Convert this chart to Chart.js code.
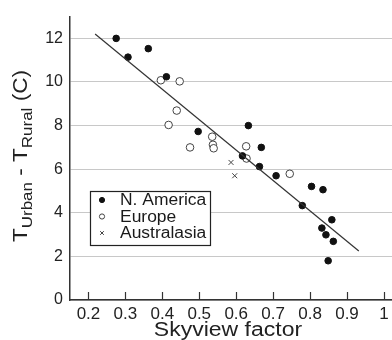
<!DOCTYPE html>
<html>
<head>
<meta charset="utf-8">
<script src="https://cdn.jsdelivr.net/npm/chart.js@4.4.0/dist/chart.umd.min.js"></script>
<style>
  html, body { margin: 0; padding: 0; background: #fff; overflow: hidden; }
  #wrap { width: 400px; height: 340px; }
</style>
</head>
<body>
<div id="wrap"><canvas id="chart" width="400" height="340"></canvas></div>
<script>
// tick labels
const xTicks = [0.2, 0.3, 0.4, 0.5, 0.6, 0.7, 0.8, 0.9, 1.0];
const yTicks = [0, 2, 4, 6, 8, 10, 12];

// N. America (filled dots)
const naX = [0.275, 0.307, 0.362, 0.411, 0.497, 0.633, 0.668, 0.617, 0.663, 0.708, 0.804, 0.835, 0.779, 0.859, 0.832, 0.843, 0.863, 0.849];
const naY = [12.0, 11.14, 11.53, 10.24, 7.73, 8.0, 7.0, 6.61, 6.12, 5.70, 5.21, 5.06, 4.33, 3.68, 3.30, 2.99, 2.69, 1.80];

// Europe (open circles)
const euX = [0.396, 0.447, 0.439, 0.417, 0.535, 0.475, 0.537, 0.539, 0.627, 0.628, 0.745];
const euY = [10.08, 10.03, 8.69, 8.03, 7.49, 7.0, 7.12, 6.96, 7.05, 6.49, 5.79];

// Australasia (crosses)
const auX = [0.586, 0.596];
const auY = [6.31, 5.70];

// fitted line end points
const fitX = [0.218, 0.932];
const fitY = [12.2, 2.25];

const FONT = '"Liberation Sans", Arial, Helvetica, sans-serif';

function pts(xs, ys) { return xs.map((x, i) => ({ x: x, y: ys[i] })); }

// titles, legend box and inward x ticks
const decor = {
  id: 'decor',
  afterDraw(chart) {
    const ctx = chart.ctx;
    const xs = chart.scales.x;
    const area = chart.chartArea;

    // inward tick marks on the x axis
    ctx.save();
    ctx.strokeStyle = '#333';
    ctx.lineWidth = 1.2;
    xTicks.forEach(v => {
      const px = Math.round(xs.getPixelForValue(v)) + 0.5;
      ctx.beginPath();
      ctx.moveTo(px, area.bottom);
      ctx.lineTo(px, area.bottom - 8);
      ctx.stroke();
    });
    ctx.restore();

    // x title (the source type is a little wide)
    ctx.save();
    ctx.fillStyle = '#222';
    ctx.font = '20px ' + FONT;
    ctx.textAlign = 'center';
    ctx.textBaseline = 'alphabetic';
    ctx.translate(228, 336);
    ctx.scale(1.15, 1);
    ctx.fillText('Skyview factor', 0, 0);
    ctx.restore();

    // y title with subscripts, rotated
    ctx.save();
    ctx.translate(27, 242);
    ctx.rotate(-Math.PI / 2);
    ctx.scale(1.13, 1);
    ctx.fillStyle = '#222';
    ctx.textBaseline = 'alphabetic';
    const parts = [
      ['T', 20, 0], ['Urban', 15, 5], [' - T', 20, 0], ['Rural', 15, 5], [' (C)', 20, 0]
    ];
    let cx = 0;
    parts.forEach(p => {
      ctx.font = p[1] + 'px ' + FONT;
      ctx.fillText(p[0], cx, p[2]);
      cx += ctx.measureText(p[0]).width;
    });
    ctx.restore();

    // legend
    ctx.save();
    ctx.strokeStyle = '#222';
    ctx.lineWidth = 1.2;
    ctx.fillStyle = '#fff';
    ctx.fillRect(90, 191, 120, 54);
    ctx.strokeRect(90.5, 191.5, 120, 54);
    ctx.font = '16px ' + FONT;
    ctx.textBaseline = 'middle';
    const rows = [200, 216.5, 233];
    chart.data.datasets.filter(d => d.legend).forEach((d, i) => {
      ctx.fillStyle = d.backgroundColor;
      ctx.strokeStyle = d.borderColor;
      ctx.lineWidth = 1;
      Chart.helpers.drawPoint(ctx, { pointStyle: d.pointStyle, radius: 2.6, rotation: 0, borderWidth: 1 }, 102, rows[i]);
      ctx.fillStyle = '#1a1a1a';
      ctx.save();
      ctx.translate(120, rows[i] + 1);
      ctx.scale(1.09, 1);
      ctx.fillText(d.label, 0, 0);
      ctx.restore();
    });
    ctx.restore();
  }
};

new Chart(document.getElementById('chart'), {
  type: 'scatter',
  data: {
    datasets: [
      {
        label: 'fit', type: 'line', data: pts(fitX, fitY), showLine: true,
        borderColor: '#333', borderWidth: 1.2, pointRadius: 0, order: 0
      },
      {
        label: 'N. America', legend: true, data: pts(naX, naY), pointStyle: 'circle',
        pointRadius: 3.3, backgroundColor: '#111', borderColor: '#111', borderWidth: 1, order: 1
      },
      {
        label: 'Europe', legend: true, data: pts(euX, euY), pointStyle: 'circle',
        pointRadius: 3.8, backgroundColor: '#fff', borderColor: '#444', borderWidth: 1, order: 2
      },
      {
        label: 'Australasia', legend: true, data: pts(auX, auY), pointStyle: 'crossRot',
        pointRadius: 3.5, backgroundColor: '#444', borderColor: '#444', borderWidth: 1, order: 3
      }
    ]
  },
  options: {
    responsive: false,
    animation: false,
    devicePixelRatio: 1,
    layout: { padding: { top: 12, left: 0, right: 0, bottom: 0 } },
    plugins: { legend: { display: false }, tooltip: { enabled: false } },
    scales: {
      x: {
        type: 'linear', min: 0.15, max: 1.03,
        afterBuildTicks: s => { s.ticks = xTicks.map(v => ({ value: v })); },
        afterFit: s => { s.height = 40; },
        grid: { display: false, drawTicks: false, tickLength: 0 },
        border: { display: true, color: '#333', width: 1.5 },
        ticks: {
          padding: 4, color: '#222', font: { family: FONT, size: 17 },
          callback: v => (v === 1 ? '1' : v.toFixed(1))
        }
      },
      y: {
        min: 0, max: 13,
        afterBuildTicks: s => { s.ticks = yTicks.map(v => ({ value: v })); },
        afterFit: s => { s.width = 70; },
        grid: { color: '#c8c8c8', lineWidth: 1, drawTicks: false },
        border: { display: true, color: '#333', width: 1.5 },
        ticks: { padding: 7, color: '#222', font: { family: FONT, size: 16 } }
      }
    }
  },
  plugins: [decor]
});
</script>
</body>
</html>
